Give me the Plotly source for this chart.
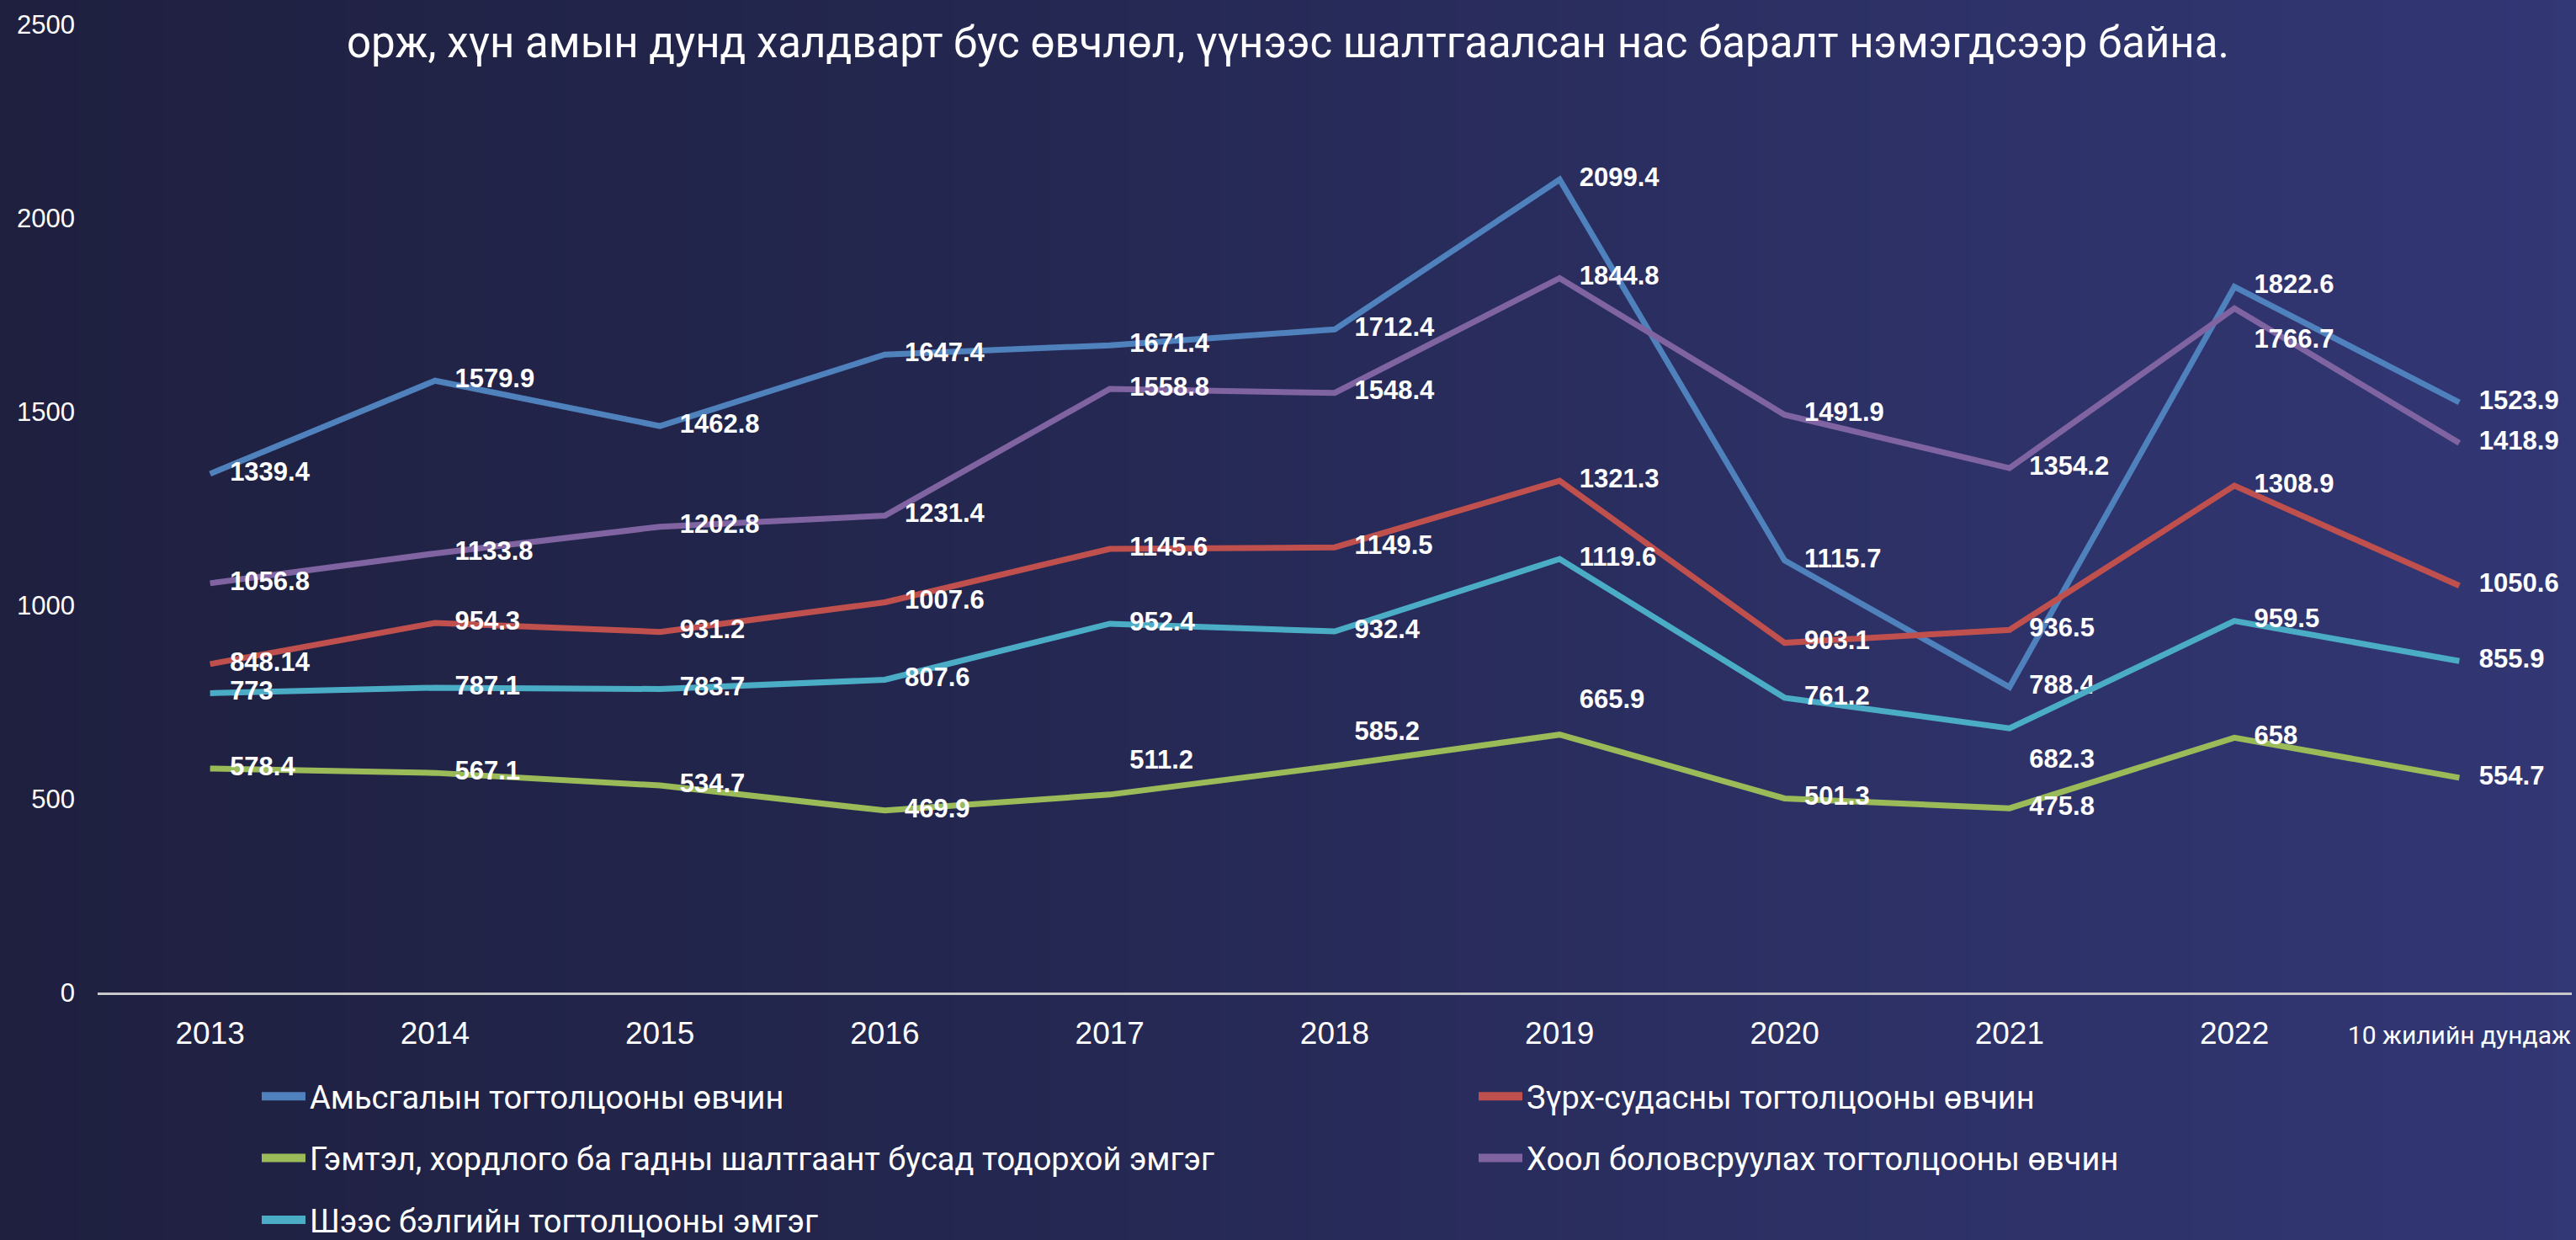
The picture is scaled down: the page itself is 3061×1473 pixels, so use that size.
import base64, struct, zlib
import plotly.graph_objects as go

# ---------------- data ----------------
categories = ["2013", "2014", "2015", "2016", "2017", "2018", "2019", "2020", "2021", "2022",
              "10 жилийн дундаж"]

resp = [1339.4, 1579.9, 1462.8, 1647.4, 1671.4, 1712.4, 2099.4, 1115.7, 788.4, 1822.6, 1523.9]
cardio = [848.14, 954.3, 931.2, 1007.6, 1145.6, 1149.5, 1321.3, 903.1, 936.5, 1308.9, 1050.6]
injury = [578.4, 567.1, 534.7, 469.9, 511.2, 585.2, 665.9, 501.3, 475.8, 658, 554.7]
digest = [1056.8, 1133.8, 1202.8, 1231.4, 1558.8, 1548.4, 1844.8, 1491.9, 1354.2, 1766.7, 1418.9]
urogen = [773, 787.1, 783.7, 807.6, 952.4, 932.4, 1119.6, 761.2, 682.3, 959.5, 855.9]

series_names = [
    "Амьсгалын тогтолцооны өвчин",
    "Зүрх-судасны тогтолцооны өвчин",
    "Гэмтэл, хордлого ба гадны шалтгаант бусад тодорхой эмгэг",
    "Хоол боловсруулах тогтолцооны өвчин",
    "Шээс бэлгийн тогтолцооны эмгэг",
]
series_values = [resp, cardio, injury, digest, urogen]
series_colors = ["#4F81BD", "#C0504D", "#9BBB59", "#8064A2", "#4BACC6"]
legend_column = ["legend", "legend2", "legend", "legend2", "legend"]

title_text = "орж, хүн амын дунд халдварт бус өвчлөл, үүнээс шалтгаалсан нас баралт нэмэгдсээр байна."
y_ticks = [0, 500, 1000, 1500, 2000, 2500]

# label placement overrides (series index, point index) -> position
label_pos = {(2, 4): "top right", (2, 5): "top right", (2, 6): "top right",
             (3, 9): "bottom right", (4, 8): "bottom right"}

# ---------------- canvas geometry ----------------
W, H = 3061, 1473
ML, MR, MT, MB = 116, 5, 29, 294
PW, PH = W - ML - MR, H - MT - MB

COND = "Roboto, 'Liberation Sans', sans-serif"
ARIAL = "'Liberation Sans', Arial, sans-serif"


def gradient_png(stops, w=512):
    raw = bytearray([0])
    for i in range(w):
        t = i / (w - 1)
        for k in range(len(stops) - 1):
            t0, c0 = stops[k]
            t1, c1 = stops[k + 1]
            if t0 <= t <= t1:
                f = (t - t0) / (t1 - t0) if t1 > t0 else 0
                raw += bytes(int(round(c0[j] + (c1[j] - c0[j]) * f)) for j in range(3))
                break

    def chunk(tag, data):
        c = struct.pack(">I", len(data)) + tag + data
        return c + struct.pack(">I", zlib.crc32(tag + data) & 0xFFFFFFFF)

    png = (b"\x89PNG\r\n\x1a\n"
           + chunk(b"IHDR", struct.pack(">IIBBBBB", w, 1, 8, 2, 0, 0, 0))
           + chunk(b"IDAT", zlib.compress(bytes(raw)))
           + chunk(b"IEND", b""))
    return "data:image/png;base64," + base64.b64encode(png).decode()


bg = gradient_png([(0.0, (31, 32, 64)), (0.35, (35, 38, 78)), (0.7, (44, 48, 100)), (1.0, (50, 55, 117))])

fig = go.Figure()
for si, (name, vals, col) in enumerate(zip(series_names, series_values, series_colors)):
    fig.add_trace(go.Scatter(
        x=categories, y=vals, name=name,
        mode="lines+markers+text",
        line=dict(color=col, width=7),
        marker=dict(size=36, color="rgba(0,0,0,0)", opacity=0),
        text=[f"{v:g}" for v in vals],
        textposition=[label_pos.get((si, i), "middle right") for i in range(len(vals))],
        textfont=dict(family=ARIAL, size=31, color="white", weight="bold"),
        cliponaxis=False,
        hoverinfo="skip",
        showlegend=False,
    ))

# legend-only entries (thicker swatches)
for si, (name, col) in enumerate(zip(series_names, series_colors)):
    fig.add_trace(go.Scatter(
        x=[None], y=[None], name=name, mode="lines",
        line=dict(color=col, width=12),
        legend=legend_column[si], legendgroup=f"g{si}", showlegend=True,
        hoverinfo="skip",
    ))

tick_text = categories[:-1] + [
    f"<span style=\"font-family:Roboto; font-size:30px\">{categories[-1]}</span>"
]

legend_common = dict(orientation="v", xanchor="left", y=-(1271 - (H - MB)) / PH, yanchor="top",
                     bgcolor="rgba(0,0,0,0)", font=dict(family=COND, size=38, color="white"),
                     traceorder="grouped", tracegroupgap=21, itemwidth=52)

fig.update_layout(
    width=W, height=H,
    margin=dict(l=ML, r=MR, t=MT, b=MB, pad=0, autoexpand=False),
    paper_bgcolor="#282b58",
    plot_bgcolor="rgba(0,0,0,0)",
    showlegend=True,
    title=dict(text=title_text, x=0.5, xref="container", xanchor="center",
               y=1 - 50 / H, yref="container", yanchor="middle",
               font=dict(family=COND, size=51, color="white")),
    xaxis=dict(type="category", categoryorder="array", categoryarray=categories,
               tickvals=categories, ticktext=tick_text,
               showgrid=False, zeroline=False, showline=True, linecolor="#C8C8C8", linewidth=3,
               ticks="", ticklabelstandoff=14,
               tickfont=dict(family=ARIAL, size=37, color="white"),
               range=[-0.5, len(categories) - 0.5]),
    yaxis=dict(range=[0, 2500], tickvals=y_ticks, showgrid=False, zeroline=False, showline=False,
               ticks="", ticklabelstandoff=26,
               tickfont=dict(family=ARIAL, size=31, color="white")),
    legend=dict(x=(306 - ML) / PW, **legend_common),
    legend2=dict(x=(1752 - ML) / PW, **legend_common),
)

fig.add_layout_image(dict(source=bg, xref="paper", yref="paper",
                          x=-ML / PW, y=1 + MT / PH, sizex=W / PW, sizey=H / PH,
                          xanchor="left", yanchor="top", sizing="stretch", layer="below"))

fig.write_html("out.html")
